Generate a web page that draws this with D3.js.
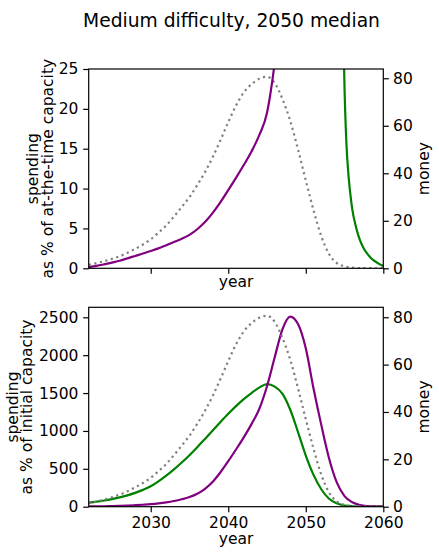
<!DOCTYPE html>
<html><head><meta charset="utf-8">
<script src="https://cdn.jsdelivr.net/npm/d3@7"></script>
<style>
body{margin:0;background:#fff}
svg text{font-family:"DejaVu Sans",sans-serif}
</style>
</head><body>
<svg id="c" width="439" height="559"></svg>
<script>
// ---------- data ----------
const years = [2022,2023,2024,2025,2026,2027,2028,2029,2030,2031,2032,2033,2034,2035,2036,2037,2038,2039,2040,
  2041,2042,2043,2044,2045,2046,2047,2048,2049,2050,2051,2052,2053,2054,2055,2056,2057,2058,2059,2060];
const money = [1.5,2.2,3.0,4.0,5.1,6.5,8.2,10.0,12.2,15.0,18.0,21.8,25.8,30.0,35.0,40.5,46.8,54.0,61.5,
  68.5,74.0,77.5,79.8,80.6,78.0,71.2,62.0,50.0,37.0,24.5,13.5,6.0,2.2,0.8,0.3,0.1,0.05,0.02,0.01];
const purpleInitial = [3,4,6,8,11,15,20,26,33,43,57,75,98,127,170,236,330,455,600,
  755,915,1090,1290,1590,1975,2345,2510,2410,2090,1560,1080,640,320,140,58,22,8,3,1];
const greenInitial = [53,66,82,101,123,150,182,222,270,335,410,493,583,680,785,895,1007,1118,1226,
  1328,1420,1500,1572,1618,1585,1490,1280,985,675,420,230,105,45,16,6,2,1,0.5,0.3];
const purpleCurrentYears = [2022,2023,2024,2025,2026,2027,2028,2029,2030,2031,2032,2033,2034,2035,2036,2037,2038,2039,2040,
  2041,2042,2043,2044,2045,2045.5,2046,2046.5];
const purpleCurrent = [0.15,0.3,0.5,0.72,0.95,1.25,1.55,1.85,2.17,2.5,2.9,3.3,3.7,4.2,4.9,5.8,6.95,8.3,9.8,
  11.35,12.95,14.65,16.7,19.5,22.3,26,32];
const greenCurrentYears = [2054.5,2054.75,2055,2055.25,2055.5,2055.75,2056,2056.5,2057,2057.5,2058,2058.5,2059,2059.5,2060];
const greenCurrent = [48,34,22.5,15.5,11.8,9.3,7.4,5.1,3.5,2.45,1.75,1.2,0.83,0.52,0.29];

const xTicks = [2030,2040,2050,2060];
const topLeftTicks = [0,5,10,15,20,25];
const bottomLeftTicks = [0,500,1000,1500,2000,2500];
const moneyTicks = [0,20,40,60,80];

const title = "Medium difficulty, 2050 median";
const topYLabel = ["spending","as % of at-the-time capacity"];
const bottomYLabel = ["spending","as % of initial capacity"];
const xLabel = "year";
const rightLabel = "money";

// ---------- layout ----------
const svg = d3.select("#c");
const FS = 15.5;
const X0 = 88.7, X1 = 383.3;
const x = d3.scaleLinear().domain([2022,2060]).range([X0,X1]);

const COL = {purple:"#800080", green:"#008000", gray:"#808080"};
const LW = 2.2;

svg.append("text").attr("x",231.5).attr("y",26.8).attr("text-anchor","middle")
  .attr("font-size",18.7).attr("fill","#000").text(title);

function series(xs, ys){ return xs.map((d,i)=>[d, ys[i]]); }

function panel(cfg){
  const {y0,y1,leftMax,rightMax,leftTicks,ylabel,ylx,showXLabels,xlabelY,lines,id} = cfg;
  const yL = d3.scaleLinear().domain([0,leftMax]).range([y1,y0]);
  const yR = d3.scaleLinear().domain([0,rightMax]).range([y1,y0]);
  const g = svg.append("g");
  g.append("clipPath").attr("id",id).append("rect")
    .attr("x",X0).attr("y",y0).attr("width",X1-X0).attr("height",y1-y0);
  const plot = g.append("g").attr("clip-path",`url(#${id})`);
  lines.forEach(L=>{
    const sc = L.axis==="left" ? yL : yR;
    const line = d3.line().x(d=>x(d[0])).y(d=>sc(d[1])).curve(d3.curveMonotoneX);
    plot.append("path").attr("d",line(L.data)).attr("fill","none")
      .attr("stroke",L.color).attr("stroke-width",LW)
      .attr("stroke-dasharray",L.dash||null);
  });
  g.append("rect").attr("x",X0).attr("y",y0).attr("width",X1-X0).attr("height",y1-y0)
    .attr("fill","none").attr("stroke","#000").attr("stroke-width",1.2);
  const style = a => {
    a.attr("font-size",FS).attr("font-family","DejaVu Sans");
    a.select(".domain").remove();
    a.selectAll(".tick line").attr("stroke","#000").attr("stroke-width",1.2);
    a.selectAll(".tick text").attr("fill","#000");
  };
  g.append("g").attr("transform",`translate(${X0},0)`)
    .call(d3.axisLeft(yL).tickValues(leftTicks).tickSize(5.5).tickPadding(4.8).tickFormat(d3.format("d")))
    .call(style);
  g.append("g").attr("transform",`translate(${X1},0)`)
    .call(d3.axisRight(yR).tickValues(moneyTicks).tickSize(5.5).tickPadding(4.3).tickFormat(d3.format("d")))
    .call(style);
  g.append("g").attr("transform",`translate(0,${y1})`)
    .call(d3.axisBottom(x).tickValues(xTicks).tickSize(5.5).tickPadding(4.4)
      .tickFormat(showXLabels ? d3.format("d") : ()=>""))
    .call(style);
  const cy = (y0+y1)/2;
  const yl = g.append("text").attr("transform",`translate(0,${cy}) rotate(-90)`)
    .attr("text-anchor","middle").attr("font-size",FS).attr("fill","#000");
  ylabel.forEach((t,i)=>yl.append("tspan").attr("x",0).attr("y",ylx[i]).text(t));
  g.append("text").attr("transform",`translate(428.5,${cy}) rotate(-90)`)
    .attr("text-anchor","middle").attr("font-size",FS).attr("fill","#000").text(rightLabel);
  g.append("text").attr("x",(X0+X1)/2).attr("y",xlabelY).attr("text-anchor","middle")
    .attr("font-size",FS).attr("fill","#000").text(xLabel);
}

panel({
  id:"clipTop", y0:69, y1:268.3, leftMax:25, rightMax:83.9, leftTicks:topLeftTicks,
  ylabel:topYLabel, ylx:[37.5,52.5], showXLabels:false, xlabelY:287,
  lines:[
    {data:series(years,money), axis:"right", color:COL.gray, dash:"2.2,3.5"},
    {data:series(purpleCurrentYears,purpleCurrent), axis:"left", color:COL.purple},
    {data:series(greenCurrentYears,greenCurrent), axis:"left", color:COL.green}
  ]
});
panel({
  id:"clipBot", y0:307.3, y1:506.7, leftMax:2632, rightMax:84.2, leftTicks:bottomLeftTicks,
  ylabel:bottomYLabel, ylx:[17.5,31.5], showXLabels:true, xlabelY:543.7,
  lines:[
    {data:series(years,greenInitial), axis:"left", color:COL.green},
    {data:series(years,purpleInitial), axis:"left", color:COL.purple},
    {data:series(years,money), axis:"right", color:COL.gray, dash:"2.2,3.5"}
  ]
});
</script>
</body></html>
